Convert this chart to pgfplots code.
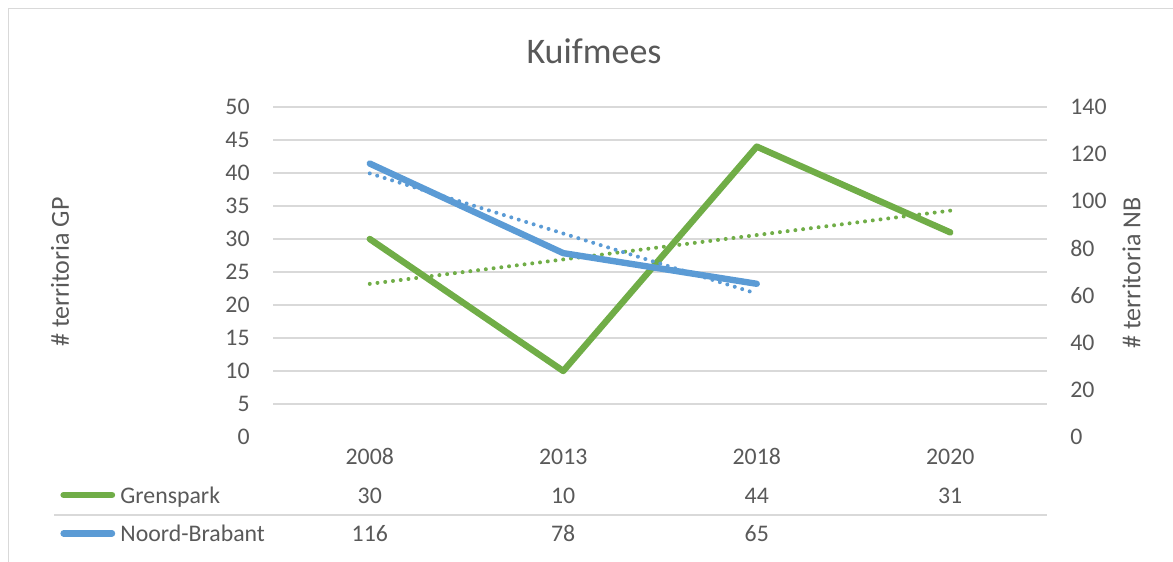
\documentclass[border=0pt]{standalone}
\usepackage{pgfplots}
\pgfplotsset{compat=1.18}
\usepackage{fontspec}
\setmainfont{Carlito}
\definecolor{gpgreen}{HTML}{70AD47}
\definecolor{nbblue}{HTML}{5B9BD5}
\definecolor{txt}{HTML}{595959}
\definecolor{gridc}{HTML}{D9D9D9}
\begin{document}
\begin{tikzpicture}[x=1pt,y=1pt]
\path[use as bounding box] (0,0) rectangle (586.5,281);
\draw[gridc, line width=0.6pt] (4.2,0) -- (4.2,276.8) -- (586.5,276.8);
\pgfplotsset{
  mygeom/.style={
    at={(136.5pt,62.5pt)}, anchor=south west,
    width=387pt, height=165pt, scale only axis,
    xmin=-0.5, xmax=3.5,
    axis line style={draw=none},
    major tick length=0pt,
    tick label style={font=\fontsize{11.9}{14}\selectfont, text=txt},
    /pgf/number format/assume math mode=true,
    clip=false,
  }
}
\begin{axis}[
  mygeom,
  ymin=0, ymax=50,
  xtick={0,1,2,3}, xticklabels={2008,2013,2018,2020},
  xticklabel style={anchor=base, inner sep=0pt, yshift=-14pt},
  ytick={5,10,...,50}, extra y ticks={0}, extra y tick style={grid=none},
  ymajorgrids, grid style={gridc, line width=0.75pt},
  yticklabel style={anchor=east, inner sep=0pt, xshift=-11.5pt},
]
\addplot[gpgreen, line width=3.2pt, line join=round, line cap=round] coordinates {(0,30) (1,10) (2,44) (3,31)};
\addplot[gpgreen, line width=2pt, line cap=round, dash pattern=on 0pt off 3.9pt] coordinates {(0,23.2) (1,26.9) (2,30.6) (3,34.3)};
\end{axis}
\begin{axis}[
  mygeom,
  ymin=0, ymax=140,
  xtick=\empty,
  ytick={0,20,...,140},
  yticklabel pos=right,
  yticklabel style={anchor=west, inner sep=0pt, xshift=11.5pt},
]
\addplot[nbblue, line width=3.2pt, line join=round, line cap=round] coordinates {(0,116) (1,78) (2,65)};
\addplot[nbblue, line width=2pt, line cap=round, dash pattern=on 0pt off 3.9pt] coordinates {(0,111.83) (1,86.33) (2,60.83)};
\end{axis}
% title
\node[anchor=base, text=txt, font=\fontsize{18}{21}\selectfont] at (297,249) {Kuifmees};
% axis titles
\node[rotate=90, text=txt, font=\fontsize{13}{15}\selectfont] at (30,145) {\# territoria GP};
\node[rotate=90, text=txt, font=\fontsize{13}{15}\selectfont] at (565.8,144.5) {\# territoria NB};
% data table
\draw[gridc, line width=0.75pt] (27,23.5) -- (523.5,23.5);
\draw[gpgreen, line width=3.2pt, line cap=round] (31.8,33.5) -- (56,33.5);
\draw[nbblue, line width=3.2pt, line cap=round] (31.8,14.3) -- (56,14.3);
\begin{scope}[every node/.style={text=txt, font=\fontsize{11.9}{14}\selectfont, inner sep=0pt}]
\node[anchor=base west] at (60,29.3) {Grenspark};
\node[anchor=base west] at (60,10.2) {Noord-Brabant};
\node[anchor=base] at (184.9,29.3) {30};
\node[anchor=base] at (281.6,29.3) {10};
\node[anchor=base] at (378.4,29.3) {44};
\node[anchor=base] at (475.1,29.3) {31};
\node[anchor=base] at (184.9,10.2) {116};
\node[anchor=base] at (281.6,10.2) {78};
\node[anchor=base] at (378.4,10.2) {65};
\end{scope}
\end{tikzpicture}
\end{document}
